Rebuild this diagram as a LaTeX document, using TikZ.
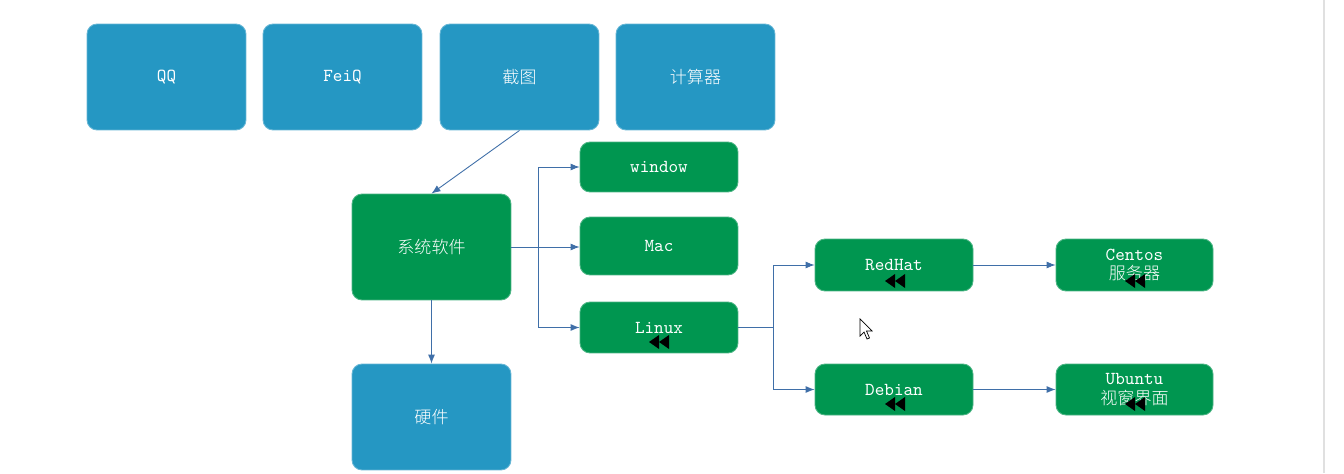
\documentclass[tikz,border=0pt]{standalone}
\usepackage{fontspec}
\newfontfamily\cjk{Noto Sans CJK SC Light}
\usetikzlibrary{arrows.meta}
\definecolor{bluebox}{HTML}{2597C3}
\definecolor{greenbox}{HTML}{009650}
\definecolor{conn}{HTML}{3F6FA8}
\tikzset{
  x=0.02cm, y=-0.02cm,
  bbox/.style={fill=bluebox, draw=bluebox!70!white, line width=0.5pt, rounded corners=0.2cm,
    text=white, align=center, inner sep=0pt},
  gbox/.style={fill=greenbox, draw=greenbox!70!white, line width=0.5pt, rounded corners=0.2cm,
    text=white, align=center, inner sep=0pt},
  lat/.style={font=\ttfamily\fontsize{10.4}{13}\selectfont},
  zh/.style={font=\cjk\fontsize{9.7}{13}\selectfont},
  arr/.style={draw=conn, line width=0.5pt, -{Latex[length=1.8mm,width=1.4mm]}},
  ln/.style={draw=conn, line width=0.5pt},
  rew/.pic={\fill[black] (-10,0)--(0,-7)--(0,7)--cycle; \fill[black] (0,0)--(10,-7)--(10,7)--cycle;}
}
\begin{document}
\begin{tikzpicture}
\useasboundingbox (0,0) rectangle (1344,473);
\fill[white] (0,0) rectangle (1344,473);
\draw[black!12, line width=1.5pt] (1324,0) -- (1324,473);
% top row
\node[bbox, lat, minimum width=3.18cm, minimum height=2.12cm] (qq) at (166.5,77) {QQ};
\node[bbox, lat, minimum width=3.18cm, minimum height=2.12cm] (feiq) at (342.5,77) {FeiQ};
\node[bbox, zh, minimum width=3.18cm, minimum height=2.12cm] (jt) at (519.5,77) {截图};
\node[bbox, zh, minimum width=3.18cm, minimum height=2.12cm] (calc) at (695.5,77) {计算器};
% left column
\node[gbox, zh, minimum width=3.18cm, minimum height=2.12cm] (sys) at (431.5,247) {系统软件};
\node[bbox, zh, minimum width=3.18cm, minimum height=2.12cm] (hw) at (431.5,417) {硬件};
% OS column
\node[gbox, lat, minimum width=3.16cm, minimum height=1.0cm] (win) at (659,167) {window};
\node[gbox, lat, minimum width=3.16cm, minimum height=1.16cm] (mac) at (659,246) {Mac};
\node[gbox, lat, minimum width=3.16cm, minimum height=1.02cm] (linux) at (659,327.5) {Linux};
% distros
\node[gbox, lat, minimum width=3.16cm, minimum height=1.04cm] (redhat) at (894,265) {RedHat};
\node[gbox, lat, minimum width=3.14cm, minimum height=1.04cm] (centos) at (1134.5,265)
  {Centos\\[-2pt]{\cjk\fontsize{9.7}{12}\selectfont 服务器}};
\node[gbox, lat, minimum width=3.16cm, minimum height=1.02cm] (debian) at (894,389.5) {Debian};
\node[gbox, lat, minimum width=3.14cm, minimum height=1.02cm] (ubuntu) at (1134.5,389.5)
  {Ubuntu\\[-2pt]{\cjk\fontsize{9.7}{12}\selectfont 视窗界面}};
% connectors
\coordinate (j1) at (538,247);
\coordinate (j2) at (773,327);
\draw[arr] (jt.south) -- (sys.north);
\draw[arr] (sys.east) -- (sys.east -| mac.west);
\draw[ln] (j1 |- win.west) -- (j1 |- linux.west);
\draw[arr] (j1 |- win.west) -- (win.west);
\draw[arr] (j1 |- linux.west) -- (linux.west);
\draw[arr] (sys.south) -- (hw.north);
\draw[ln] (linux.east) -- (j2 |- linux.east);
\draw[arr] (j2 |- linux.east) |- (redhat.west);
\draw[arr] (j2 |- linux.east) |- (debian.west);
\draw[arr] (redhat.east) -- (centos.west |- redhat.east);
\draw[arr] (debian.east) -- (ubuntu.west |- debian.east);
% screen artifacts
\pic at (659,342) {rew};
\pic at (895,281) {rew};
\pic at (1135,281) {rew};
\pic at (895,404) {rew};
\pic at (1135,404) {rew};
\draw[fill=white, line width=0.4pt] (860,319) -- (860,336) -- (864,332) -- (867,339) -- (869.5,338) -- (866.5,331) -- (872,331) -- cycle;
\end{tikzpicture}
\end{document}
